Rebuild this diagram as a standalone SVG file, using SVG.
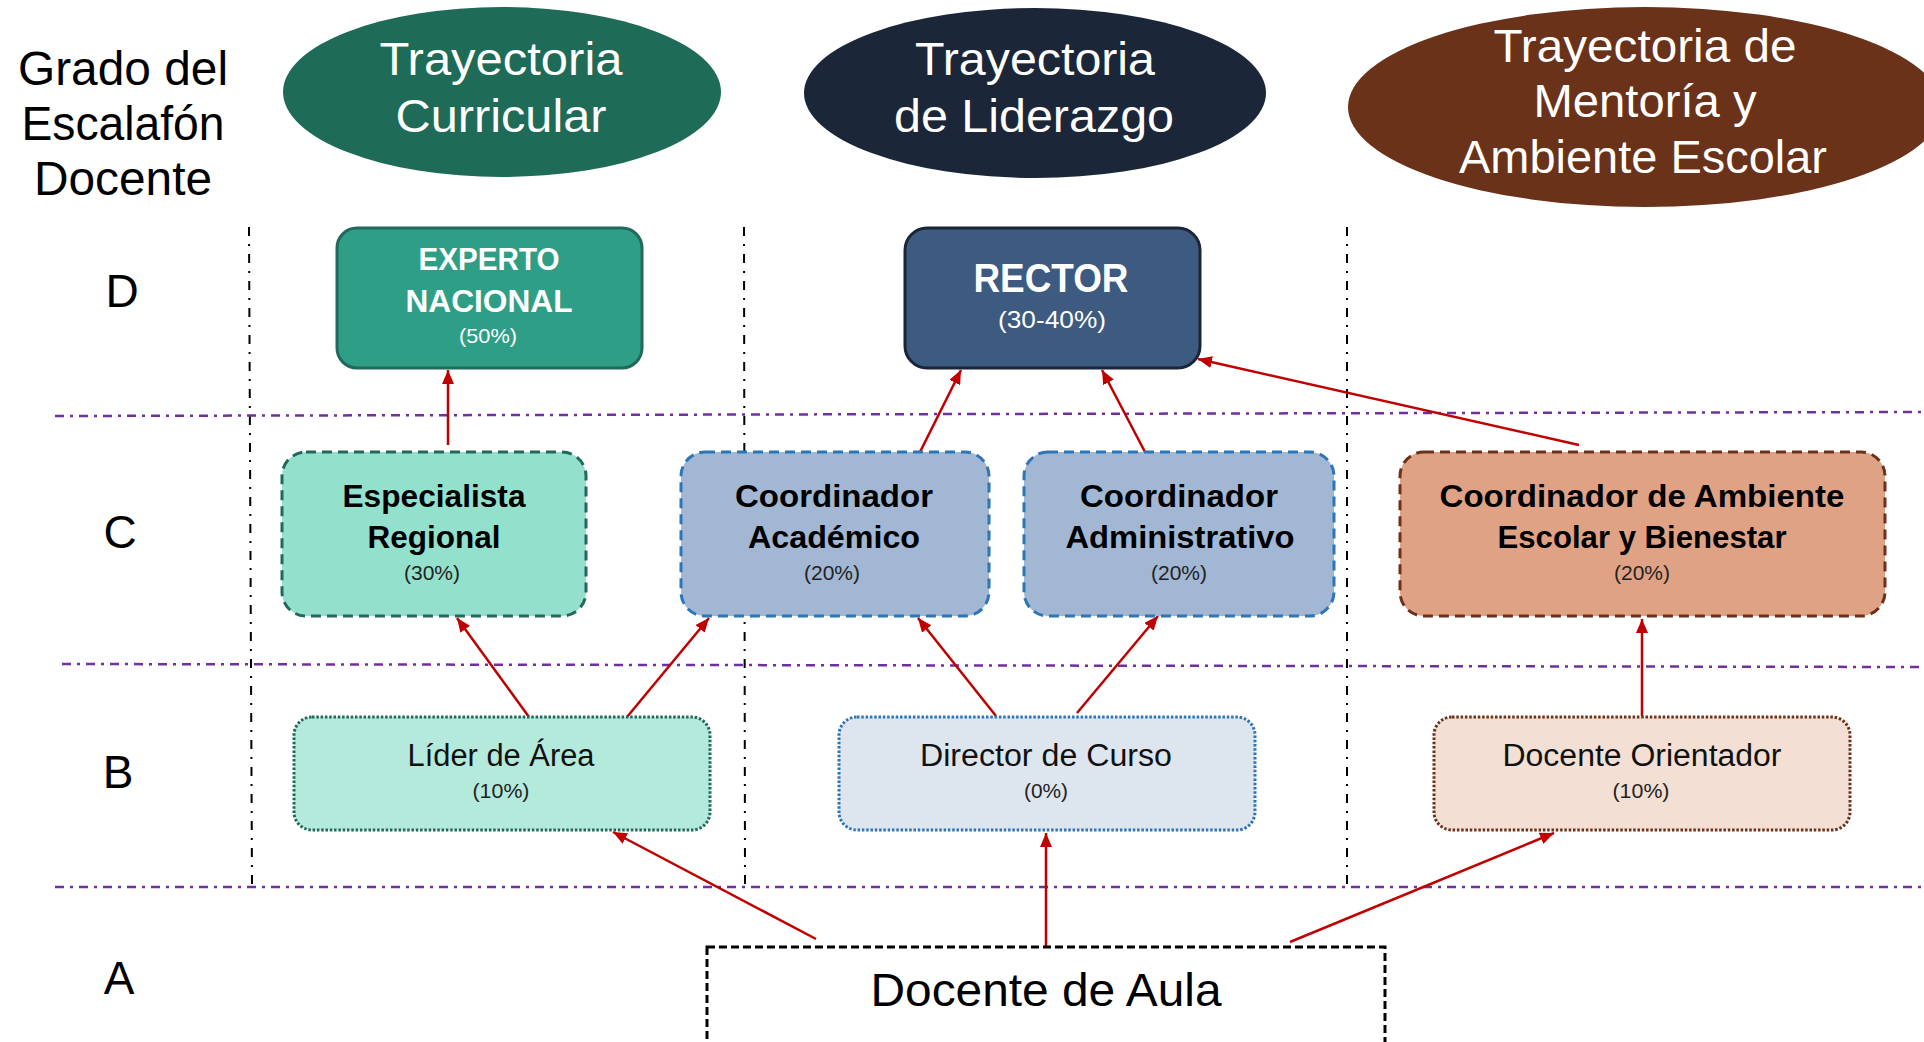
<svg xmlns="http://www.w3.org/2000/svg" width="1924" height="1042" viewBox="0 0 1924 1042">
<defs>
<style>
text{font-family:"Liberation Sans Narrow","Liberation Sans",Arial,sans-serif;text-anchor:middle}
.hd{font-size:46px;fill:#fff}
.lbl{font-size:48px;fill:#000}
.t1{font-size:32px;font-weight:bold}
.pct{font-size:21px}
.b{font-size:31px;fill:#111}
.vline{stroke:#000;stroke-width:2;stroke-dasharray:9 8 2 8;fill:none}
.hline{stroke:#7030a0;stroke-width:2.5;stroke-dasharray:9 6 3 6;fill:none}
.dash{stroke-width:3;stroke-dasharray:10 6}
.dot{stroke-width:3;stroke-dasharray:2.5 1.8}
.arr{stroke:#c00000;stroke-width:2.5;fill:none;marker-end:url(#ah)}
</style>
<marker id="ah" markerUnits="userSpaceOnUse" markerWidth="16" markerHeight="12" refX="14" refY="6" orient="auto">
<path d="M0,0 L14,6 L0,12 z" fill="#c00000"/>
</marker>
</defs>

<g id="grid">
<line class="vline" x1="249" y1="227" x2="252" y2="886"/>
<line class="vline" x1="744" y1="227" x2="745" y2="886"/>
<line class="vline" x1="1347" y1="227" x2="1347" y2="886"/>
<line class="hline" x1="55" y1="416" x2="1924" y2="412"/>
<line class="hline" x1="62" y1="664" x2="1924" y2="667"/>
<line class="hline" x1="55" y1="887" x2="1924" y2="887"/>
</g>

<g id="row-labels">
<text class="lbl" x="123" y="85" textLength="210" lengthAdjust="spacingAndGlyphs">Grado del</text>
<text class="lbl" x="123" y="140" textLength="203" lengthAdjust="spacingAndGlyphs">Escalafón</text>
<text class="lbl" x="123" y="195" textLength="178" lengthAdjust="spacingAndGlyphs">Docente</text>
<text class="lbl" x="122" y="307" style="font-size:46px">D</text>
<text class="lbl" x="120" y="548" style="font-size:46px">C</text>
<text class="lbl" x="118" y="788" style="font-size:46px">B</text>
<text class="lbl" x="119" y="994" style="font-size:46px">A</text>
</g>

<g id="track-curricular">
<ellipse cx="502" cy="92" rx="219" ry="85" fill="#1e6b57"/>
<text class="hd" x="501" y="75" textLength="243" lengthAdjust="spacingAndGlyphs">Trayectoria</text>
<text class="hd" x="501" y="132" textLength="211" lengthAdjust="spacingAndGlyphs">Curricular</text>
</g>
<g id="track-liderazgo">
<ellipse cx="1035" cy="93" rx="231" ry="85" fill="#1c2639"/>
<text class="hd" x="1035" y="75" textLength="240" lengthAdjust="spacingAndGlyphs">Trayectoria</text>
<text class="hd" x="1034" y="132" textLength="280" lengthAdjust="spacingAndGlyphs">de Liderazgo</text>
</g>
<g id="track-mentoria">
<ellipse cx="1645" cy="107" rx="297" ry="100" fill="#693219"/>
<text class="hd" x="1645" y="62" textLength="303" lengthAdjust="spacingAndGlyphs">Trayectoria de</text>
<text class="hd" x="1645" y="117" textLength="223" lengthAdjust="spacingAndGlyphs">Mentoría y</text>
<text class="hd" x="1643" y="173" textLength="368" lengthAdjust="spacingAndGlyphs">Ambiente Escolar</text>
</g>

<g id="connectors">
<line class="arr" x1="448" y1="445" x2="448" y2="370"/>
<line class="arr" x1="920" y1="452" x2="961" y2="370"/>
<line class="arr" x1="1145" y1="452" x2="1102" y2="370"/>
<line class="arr" x1="1579" y1="445" x2="1198" y2="359"/>
<line class="arr" x1="529" y1="717" x2="457" y2="618"/>
<line class="arr" x1="627" y1="717" x2="709" y2="618"/>
<line class="arr" x1="996" y1="716" x2="918" y2="618"/>
<line class="arr" x1="1077" y1="713" x2="1158" y2="616"/>
<line class="arr" x1="1642" y1="716" x2="1642" y2="619"/>
<line class="arr" x1="816" y1="939" x2="613" y2="832"/>
<line class="arr" x1="1046" y1="946" x2="1046" y2="833"/>
<line class="arr" x1="1290" y1="942" x2="1554" y2="833"/>
</g>

<g id="experto-nacional">
<rect x="337" y="228" width="305" height="140" rx="20" fill="#2e9e86" stroke="#21695a" stroke-width="3"/>
<text class="t1" x="489" y="270" fill="#fff" textLength="141" lengthAdjust="spacingAndGlyphs">EXPERTO</text>
<text class="t1" x="489" y="312" fill="#fff" textLength="167" lengthAdjust="spacingAndGlyphs">NACIONAL</text>
<text class="pct" x="488" y="343" fill="#fff" textLength="58" lengthAdjust="spacingAndGlyphs">(50%)</text>
</g>
<g id="rector">
<rect x="905" y="228" width="295" height="140" rx="22" fill="#3d5a80" stroke="#1b2538" stroke-width="3"/>
<text class="t1" x="1051" y="292" fill="#fff" style="font-size:40px" textLength="155" lengthAdjust="spacingAndGlyphs">RECTOR</text>
<text class="pct" x="1052" y="328" fill="#fff" style="font-size:24px" textLength="108" lengthAdjust="spacingAndGlyphs">(30-40%)</text>
</g>

<g id="especialista-regional">
<rect class="dash" x="282" y="452" width="304" height="164" rx="24" fill="#93e0cd" stroke="#21695a"/>
<text class="t1" x="434" y="507" textLength="183" lengthAdjust="spacingAndGlyphs">Especialista</text>
<text class="t1" x="434" y="548" textLength="133" lengthAdjust="spacingAndGlyphs">Regional</text>
<text class="pct" x="432" y="580" fill="#222" textLength="56" lengthAdjust="spacingAndGlyphs">(30%)</text>
</g>
<g id="coordinador-academico">
<rect class="dash" x="681" y="452" width="308" height="164" rx="24" fill="#a1b7d3" stroke="#2e75b6"/>
<text class="t1" x="834" y="507" textLength="198" lengthAdjust="spacingAndGlyphs">Coordinador</text>
<text class="t1" x="834" y="548" textLength="172" lengthAdjust="spacingAndGlyphs">Académico</text>
<text class="pct" x="832" y="580" fill="#222" textLength="56" lengthAdjust="spacingAndGlyphs">(20%)</text>
</g>
<g id="coordinador-administrativo">
<rect class="dash" x="1024" y="452" width="310" height="164" rx="24" fill="#a1b7d3" stroke="#2e75b6"/>
<text class="t1" x="1179" y="507" textLength="198" lengthAdjust="spacingAndGlyphs">Coordinador</text>
<text class="t1" x="1180" y="548" textLength="229" lengthAdjust="spacingAndGlyphs">Administrativo</text>
<text class="pct" x="1179" y="580" fill="#222" textLength="56" lengthAdjust="spacingAndGlyphs">(20%)</text>
</g>
<g id="coordinador-ambiente">
<rect class="dash" x="1400" y="452" width="485" height="164" rx="24" fill="#e0a285" stroke="#6b3219"/>
<text class="t1" x="1642" y="507" textLength="405" lengthAdjust="spacingAndGlyphs">Coordinador de Ambiente</text>
<text class="t1" x="1642" y="548" textLength="289" lengthAdjust="spacingAndGlyphs">Escolar y Bienestar</text>
<text class="pct" x="1642" y="580" fill="#222" textLength="56" lengthAdjust="spacingAndGlyphs">(20%)</text>
</g>

<g id="lider-area">
<rect class="dot" x="294" y="717" width="416" height="113" rx="18" fill="#b4eadc" stroke="#21695a"/>
<text class="b" x="501" y="766" textLength="187" lengthAdjust="spacingAndGlyphs">Líder de Área</text>
<text class="pct" x="501" y="798" fill="#222" textLength="57" lengthAdjust="spacingAndGlyphs">(10%)</text>
</g>
<g id="director-curso">
<rect class="dot" x="839" y="717" width="416" height="113" rx="18" fill="#dde5ef" stroke="#2e75b6"/>
<text class="b" x="1046" y="766" textLength="252" lengthAdjust="spacingAndGlyphs">Director de Curso</text>
<text class="pct" x="1046" y="798" fill="#222" textLength="44" lengthAdjust="spacingAndGlyphs">(0%)</text>
</g>
<g id="docente-orientador">
<rect class="dot" x="1434" y="717" width="416" height="113" rx="18" fill="#f4dfd4" stroke="#6b3219"/>
<text class="b" x="1642" y="766" textLength="279" lengthAdjust="spacingAndGlyphs">Docente Orientador</text>
<text class="pct" x="1641" y="798" fill="#222" textLength="57" lengthAdjust="spacingAndGlyphs">(10%)</text>
</g>

<g id="docente-aula">
<rect x="707" y="947" width="678" height="130" fill="#fff" stroke="#000" stroke-width="3" stroke-dasharray="8 4"/>
<text class="lbl" x="1046" y="1006" style="font-size:46px" textLength="351" lengthAdjust="spacingAndGlyphs">Docente de Aula</text>
</g>
</svg>
